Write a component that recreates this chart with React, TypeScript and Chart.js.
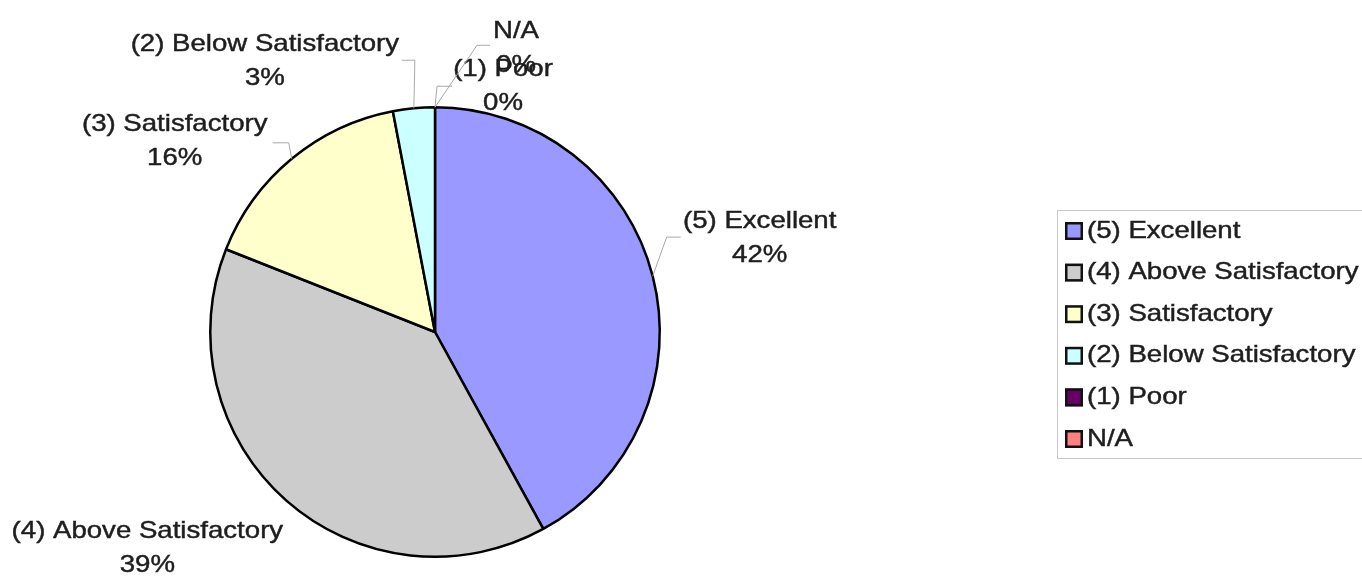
import React, { useEffect, useRef } from "react";
import { Chart, registerables } from "chart.js";

Chart.register(...registerables);

const categories = [
  "(5) Excellent",
  "(4) Above Satisfactory",
  "(3) Satisfactory",
  "(2) Below Satisfactory",
  "(1) Poor",
  "N/A",
];
const shares = [42, 39, 16, 3, 0, 0];
const sliceColors = ["#9999FF", "#CCCCCC", "#FFFFCC", "#CCFFFF", "#660066", "#FF8080"];

// label placement (style, relative to the slice's outer edge at its mid angle)
const labelOffsets: [number, number][] = [
  [107, -55],
  [-139, 31],
  [-117, -34],
  [-149, -64],
  [68, -38],
  [81, -76],
];
const leaderPaths: [number, number][][] = [
  [[14, -39], [28, -39]],
  [],
  [[-3, -16], [-19, -16]],
  [[1, -48], [-12, -48]],
  [[2, -21], [17, -21]],
  [[42, -62], [55, -62]],
];

const FONT = '24px "Liberation Sans", Arial, sans-serif';
const XSCALE = 1.15;
const TEXT_COLOR = "#1e1e1e";

function drawText(ctx: CanvasRenderingContext2D, text: string, x: number, y: number, align: CanvasTextAlign) {
  ctx.save();
  ctx.translate(x, y);
  ctx.scale(XSCALE, 1);
  ctx.font = FONT;
  ctx.fillStyle = TEXT_COLOR;
  ctx.strokeStyle = TEXT_COLOR;
  ctx.lineWidth = 0.45;
  ctx.textAlign = align;
  ctx.textBaseline = "middle";
  ctx.fillText(text, 0, 0);
  ctx.strokeText(text, 0, 0);
  ctx.restore();
}

const labelPlugin = {
  id: "excelLabels",
  afterDraw(chart: any) {
    const ctx: CanvasRenderingContext2D = chart.ctx;
    const meta = chart.getDatasetMeta(0);
    const data: number[] = chart.data.datasets[0].data;
    const total = data.reduce((a: number, b: number) => a + b, 0);
    meta.data.forEach((arc: any, i: number) => {
      const mid = (arc.startAngle + arc.endAngle) / 2;
      const ex = arc.x + Math.cos(mid) * arc.outerRadius;
      const ey = arc.y + Math.sin(mid) * arc.outerRadius;
      const path = leaderPaths[i];
      if (path.length) {
        ctx.save();
        ctx.strokeStyle = "#a8a8a8";
        ctx.lineWidth = 1;
        ctx.beginPath();
        ctx.moveTo(ex, ey);
        path.forEach(([dx, dy]) => ctx.lineTo(ex + dx, ey + dy));
        ctx.stroke();
        ctx.restore();
      }
      const [ox, oy] = labelOffsets[i];
      const pct = Math.round((data[i] / total) * 100) + "%";
      drawText(ctx, chart.data.labels[i], ex + ox, ey + oy, "center");
      drawText(ctx, pct, ex + ox, ey + oy + 34, "center");
    });

    // legend
    const lx = 1057, ly = 210, lw = 320, lh = 248;
    ctx.save();
    ctx.strokeStyle = "#c8c8c8";
    ctx.lineWidth = 1;
    ctx.strokeRect(lx + 0.5, ly + 0.5, lw, lh);
    ctx.restore();
    const colors: string[] = chart.data.datasets[0].backgroundColor;
    chart.data.labels.forEach((lab: string, i: number) => {
      const cy = 231 + i * 41.6;
      ctx.save();
      ctx.fillStyle = colors[i];
      ctx.fillRect(1065, cy - 9, 18, 18);
      ctx.strokeStyle = "#111";
      ctx.lineWidth = 2.5;
      ctx.strokeRect(1066.25, cy - 7.75, 15.5, 15.5);
      ctx.restore();
      drawText(ctx, lab, 1087, cy, "left");
    });
  },
};

export default function App() {
  const ref = useRef<HTMLCanvasElement | null>(null);
  useEffect(() => {
    if (!ref.current) return;
    const chart = new Chart(ref.current, {
      type: "pie",
      data: {
        labels: categories,
        datasets: [
          {
            data: shares,
            backgroundColor: sliceColors,
            borderColor: "#000000",
            borderWidth: 2.5,
          },
        ],
      },
      options: {
        responsive: false,
        animation: false,
        devicePixelRatio: 1,
        layout: { padding: { left: 209, right: 701, top: 105, bottom: 21 } },
        plugins: {
          legend: { display: false },
          tooltip: { enabled: false },
          title: { display: false },
        },
      },
      plugins: [labelPlugin],
    });
    return () => chart.destroy();
  }, []);
  return (
    <div style={{ position: "fixed", left: 0, top: 0, width: 1362, height: 580, background: "#fff" }}>
      <canvas ref={ref} width={1362} height={580} style={{ display: "block" }} />
    </div>
  );
}
